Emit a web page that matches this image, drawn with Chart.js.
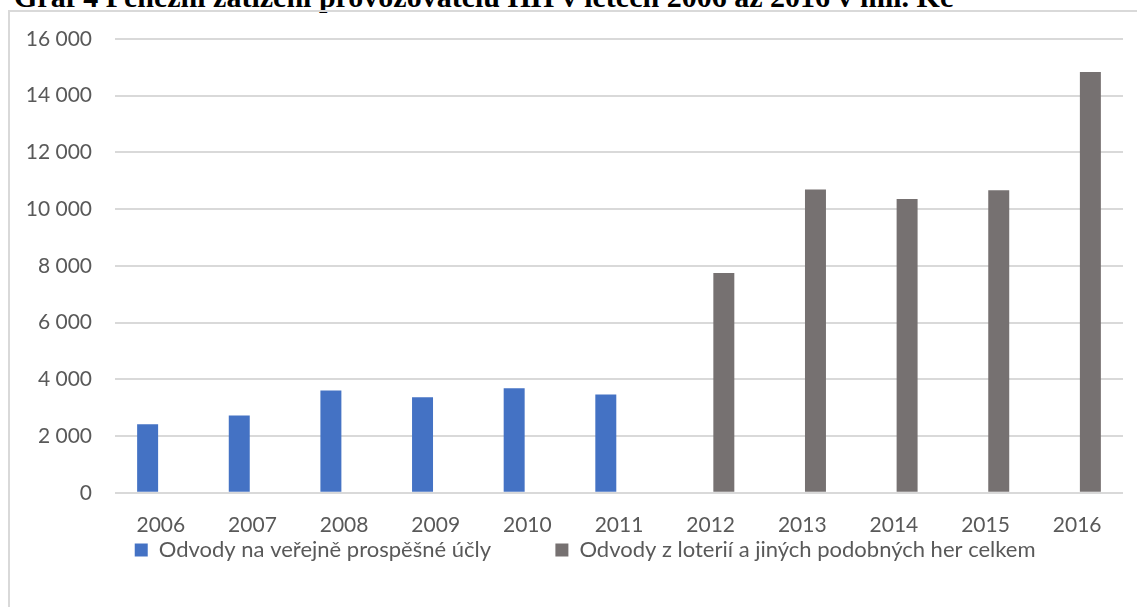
<!DOCTYPE html>
<html>
<head>
<meta charset="utf-8">
<script src="https://cdn.jsdelivr.net/npm/chart.js@4"></script>
<style>
  html, body { margin: 0; padding: 0; background: #fff; overflow: hidden; }
  body { width: 1137px; height: 607px; position: relative; }
  #title {
    position: absolute; left: 14px; top: -18px;
    font: bold 30px/30px "Liberation Serif", "Times New Roman", serif;
    color: #000; white-space: nowrap;
  }
  #box {
    position: absolute; left: 8px; top: 10px;
    width: 1140px; height: 600px;
    border: 2px solid #d9d9d9;
  }
</style>
</head>
<body>
<div id="title">Graf 4 Peněžní zatížení provozovatelů HH v letech 2006 až 2016 v mil. Kč</div>
<div id="box"><canvas id="chart" width="1140" height="600"></canvas></div>
<script>
var years = ['2006', '2007', '2008', '2009', '2010', '2011', '2012', '2013', '2014', '2015', '2016'];
var odvodyUcly = [2420, 2725, 3610, 3365, 3690, 3470, null, null, null, null, null];
var odvodyLoterie = [null, null, null, null, null, null, 7750, 10695, 10355, 10670, 14835];
var yTicks = [0, 2000, 4000, 6000, 8000, 10000, 12000, 14000, 16000];

function fmt(v) {
    return String(v).replace(/\B(?=(\d{3})+(?!\d))/g, ' ');
}

var tickFont = { family: 'Lato', size: 21 };

// pull the legend a bit closer to the axis labels
var legendNudge = {
    id: 'legendNudge',
    afterLayout: function(chart) {
        chart.legend.top -= 22;
        chart.legend.bottom -= 22;
    }
};

var ctx = document.getElementById('chart').getContext('2d');
new Chart(ctx, {
    type: 'bar',
    data: {
        labels: years,
        datasets: [
            {
                label: 'Odvody na veřejně prospěšné účly',
                data: odvodyUcly,
                backgroundColor: '#4472C4',
                barPercentage: 0.795,
                categoryPercentage: 0.576
            },
            {
                label: 'Odvody z loterií a jiných podobných her celkem',
                data: odvodyLoterie,
                backgroundColor: '#767171',
                barPercentage: 0.795,
                categoryPercentage: 0.576
            }
        ]
    },
    plugins: [legendNudge],
    options: {
        responsive: false,
        animation: false,
        layout: { padding: { top: 27, right: 27, left: 0, bottom: 19 } },
        plugins: {
            tooltip: { enabled: false },
            legend: {
                position: 'bottom',
                align: 'end',
                labels: {
                    color: '#595959',
                    font: { family: 'Lato', size: 22 },
                    boxWidth: 13,
                    boxHeight: 13,
                    padding: 3,
                    generateLabels: function(chart) {
                        // spacing as in the original legend
                        var items = Chart.defaults.plugins.legend.labels.generateLabels(chart);
                        items[0].text = items[0].text + '\u00a0'.repeat(11);
                        items[1].text = items[1].text + '\u00a0'.repeat(15);
                        return items;
                    }
                }
            }
        },
        scales: {
            x: {
                grid: { display: false, drawTicks: false },
                border: { display: false },
                ticks: {
                    color: '#595959',
                    font: tickFont,
                    padding: 20,
                    maxRotation: 0
                }
            },
            y: {
                min: 0,
                max: 16000,
                afterBuildTicks: function(scale) {
                    scale.ticks = yTicks.map(function(v) { return { value: v }; });
                },
                afterFit: function(scale) { scale.width = 105; },
                grid: {
                    color: '#d9d9d9',
                    lineWidth: 2,
                    drawTicks: true,
                    tickLength: 15,
                    tickColor: 'rgba(0,0,0,0)'
                },
                border: { display: false },
                ticks: {
                    color: '#595959',
                    font: tickFont,
                    padding: 8,
                    callback: function(v) { return fmt(v); }
                }
            }
        }
    }
});
</script>
</body>
</html>
